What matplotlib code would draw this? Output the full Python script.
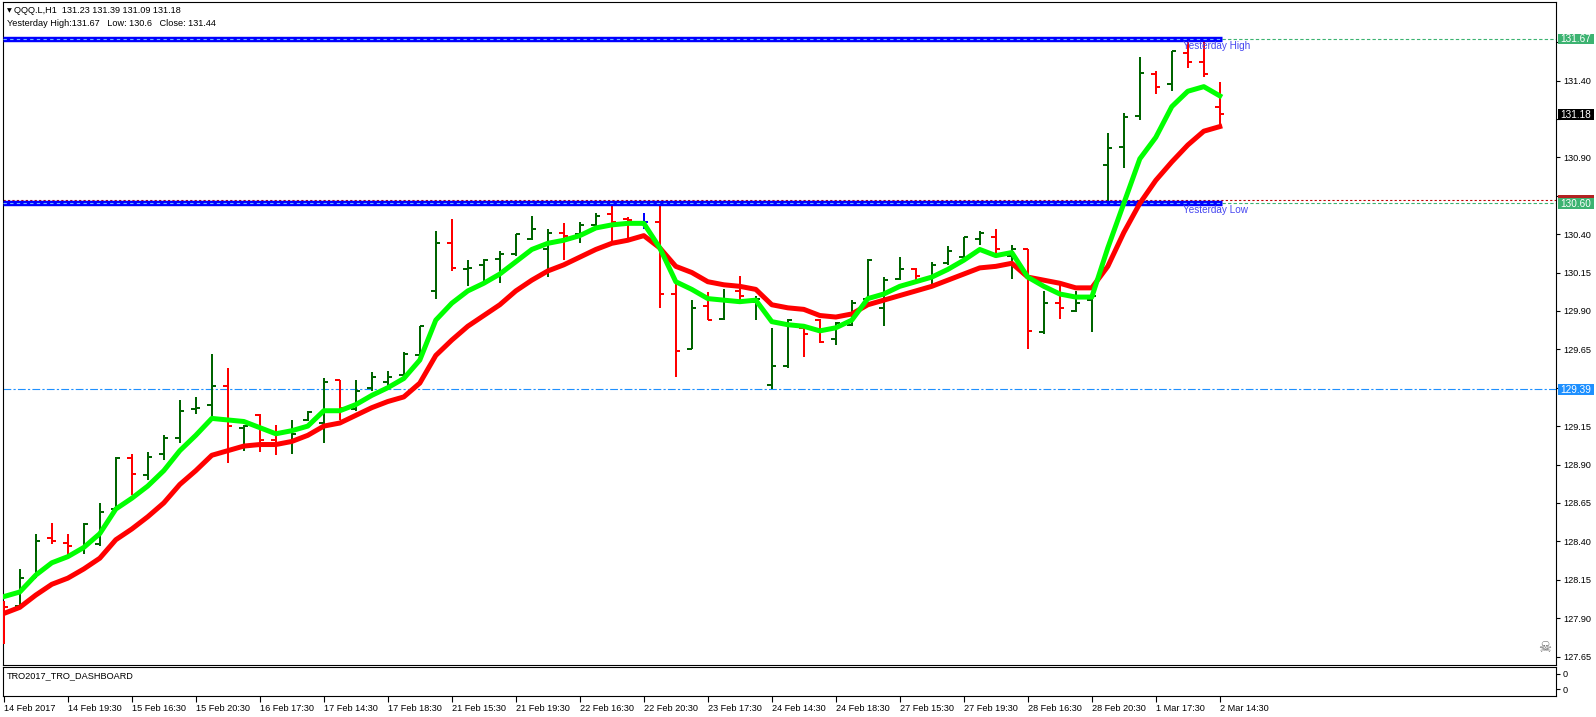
import matplotlib
matplotlib.use("Agg")
import matplotlib.pyplot as plt
from matplotlib.patches import Rectangle

W, H = 1596, 717

# ---------------- data ----------------
tick_labels = ["14 Feb 2017", "14 Feb 19:30", "15 Feb 16:30", "15 Feb 20:30", "16 Feb 17:30",
               "17 Feb 14:30", "17 Feb 18:30", "21 Feb 15:30", "21 Feb 19:30", "22 Feb 16:30",
               "22 Feb 20:30", "23 Feb 17:30", "24 Feb 14:30", "24 Feb 18:30", "27 Feb 15:30",
               "27 Feb 19:30", "28 Feb 16:30", "28 Feb 20:30", "1 Mar 17:30", "2 Mar 14:30"]
tick_bars = [0, 4, 8, 12, 16, 20, 24, 28, 32, 36, 40, 44, 48, 52, 56, 60, 64, 68, 72, 76]

opens = [128.00, 127.98, 128.16, 128.42, 128.39, 128.35, 128.38, 128.61, 128.94, 128.83,
         128.97, 129.07, 129.26, 129.29, 129.41, 129.14, 129.22, 129.06, 129.04, 129.19,
         129.17, 129.45, 129.26, 129.40, 129.44, 129.48, 129.61, 130.03, 130.34, 130.17,
         130.20, 130.24, 130.27, 130.37, 130.30, 130.41, 130.40, 130.46, 130.53, 130.50,
         130.48, 130.48, 130.01, 129.65, 129.93, 129.85, 130.03, 129.96, 129.42, 129.54,
         129.79, 129.84, 129.72, 129.81, 129.98, 129.92, 130.11, 130.17, 130.12, 130.21,
         130.25, 130.37, 130.38, 130.26, 130.30, 129.76, 129.95, 129.90, 129.97, 130.85,
         130.97, 131.17, 131.44, 131.38, 131.58, 131.52, 131.23]
highs = [128.01, 128.22, 128.45, 128.52, 128.45, 128.52, 128.65, 128.95, 128.97, 128.98,
         129.09, 129.32, 129.34, 129.62, 129.53, 129.16, 129.23, 129.16, 129.19, 129.25,
         129.46, 129.45, 129.45, 129.50, 129.51, 129.63, 129.80, 130.42, 130.50, 130.23,
         130.24, 130.29, 130.40, 130.52, 130.43, 130.47, 130.48, 130.54, 130.59, 130.51,
         130.54, 130.61, 130.08, 129.97, 130.02, 130.04, 130.13, 130.00, 129.79, 129.85,
         129.80, 129.85, 129.83, 129.97, 130.24, 130.12, 130.25, 130.18, 130.22, 130.32,
         130.38, 130.42, 130.43, 130.33, 130.30, 130.03, 130.08, 130.03, 130.01, 131.06,
         131.19, 131.55, 131.46, 131.59, 131.67, 131.67, 131.39]
lows = [127.73, 127.97, 128.16, 128.38, 128.31, 128.32, 128.37, 128.60, 128.70, 128.80,
        128.93, 129.04, 129.23, 129.20, 128.91, 128.99, 128.98, 128.96, 128.97, 129.18,
        129.04, 129.19, 129.25, 129.38, 129.40, 129.45, 129.60, 129.98, 130.16, 130.06,
        130.09, 130.08, 130.26, 130.36, 130.12, 130.23, 130.34, 130.45, 130.35, 130.37,
        130.43, 129.92, 129.47, 129.65, 129.84, 129.84, 129.97, 129.84, 129.39, 129.53,
        129.60, 129.69, 129.68, 129.80, 129.97, 129.80, 130.10, 130.08, 130.07, 130.20,
        130.25, 130.33, 130.26, 130.11, 129.65, 129.75, 129.85, 129.89, 129.76, 130.60,
        130.83, 131.14, 131.31, 131.33, 131.48, 131.42, 131.09]
closes = [127.97, 128.16, 128.40, 128.40, 128.37, 128.51, 128.59, 128.94, 128.84, 128.95,
          129.07, 129.25, 129.27, 129.41, 129.15, 129.15, 129.06, 129.04, 129.10, 129.24,
          129.44, 129.27, 129.38, 129.47, 129.47, 129.62, 129.80, 130.34, 130.18, 130.18,
          130.23, 130.27, 130.40, 130.43, 130.41, 130.39, 130.46, 130.52, 130.48, 130.49,
          130.48, 130.01, 129.64, 129.92, 129.84, 129.98, 130.00, 129.98, 129.54, 129.84,
          129.75, 129.70, 129.82, 129.95, 130.23, 130.10, 130.17, 130.13, 130.20, 130.29,
          130.38, 130.41, 130.30, 130.30, 129.77, 129.95, 129.92, 129.95, 130.00, 130.96,
          131.16, 131.45, 131.36, 131.59, 131.52, 131.44, 131.18]

ma_fast = [128.04, 128.07, 128.18, 128.26, 128.30, 128.36, 128.45, 128.61, 128.68, 128.76,
           128.86, 128.99, 129.09, 129.20, 129.19, 129.18, 129.14, 129.10, 129.12, 129.15,
           129.25, 129.25, 129.29, 129.35, 129.40, 129.46, 129.58, 129.84, 129.95, 130.03,
           130.08, 130.14, 130.22, 130.30, 130.34, 130.36, 130.39, 130.44, 130.46, 130.47,
           130.47, 130.31, 130.09, 130.04, 129.98, 129.97, 129.96, 129.97, 129.83, 129.81,
           129.80, 129.77, 129.79, 129.84, 129.98, 130.01, 130.06, 130.09, 130.12, 130.17,
           130.23, 130.30, 130.26, 130.28, 130.12, 130.06, 130.01, 129.99, 129.99, 130.31,
           130.60, 130.89, 131.03, 131.23, 131.33, 131.36, 131.30]
ma_slow = [127.93, 127.97, 128.05, 128.12, 128.16, 128.22, 128.29, 128.41, 128.48, 128.56,
           128.65, 128.77, 128.86, 128.96, 128.99, 129.02, 129.03, 129.03, 129.05, 129.09,
           129.15, 129.17, 129.22, 129.27, 129.31, 129.34, 129.43, 129.61, 129.71, 129.80,
           129.87, 129.94, 130.03, 130.10, 130.16, 130.20, 130.25, 130.30, 130.34, 130.36,
           130.39, 130.31, 130.19, 130.15, 130.09, 130.07, 130.06, 130.04, 129.94, 129.92,
           129.91, 129.87, 129.86, 129.88, 129.94, 129.97, 130.00, 130.03, 130.06, 130.10,
           130.14, 130.18, 130.19, 130.21, 130.12, 130.10, 130.08, 130.05, 130.05, 130.19,
           130.41, 130.60, 130.75, 130.87, 130.98, 131.07, 131.10]

y_high = 131.67
y_low = 130.60
y_close_line = 130.62
y_min_line = 129.39
last_price = 131.18
y_ticks = [127.65, 127.90, 128.15, 128.40, 128.65, 128.90, 129.15, 129.40, 129.65,
           129.90, 130.15, 130.40, 130.65, 130.90, 131.15, 131.40, 131.65]
hidden_ticks = [129.40, 130.65, 131.15, 131.65]   # covered by the price boxes

# ---------------- figure ----------------
plt.rcParams['font.family'] = ['Liberation Sans', 'DejaVu Sans']
FS = 6.6
fig = plt.figure(figsize=(W / 100, H / 100), dpi=100)
fig.patch.set_facecolor('white')


def fxy(px, py):
    return px / W, 1 - py / H


# pixel <-> price mapping used for the axes limits
Y0_PIX, Y0_PRICE, PPU = 656.5, 127.65, 153.6
TOP, BOT = 2, 665

XMIN = -0.05
XMAX = XMIN + 1553 / 16.0

ax = fig.add_axes([3 / W, 1 - BOT / H, 1553 / W, (BOT - TOP) / H])
ax.set_xlim(XMIN, XMAX)
ax.set_ylim(Y0_PRICE - (BOT - Y0_PIX) / PPU, Y0_PRICE + (Y0_PIX - TOP) / PPU)
ax.set_facecolor('white')
for s in ax.spines.values():
    s.set_color('black')
    s.set_linewidth(0.8)
ax.set_xticks([])
ax.yaxis.tick_right()
ax.set_yticks(y_ticks)
ax.set_yticklabels(["" if any(abs(v - h) < 1e-6 for h in hidden_ticks) else "%.2f" % v
                    for v in y_ticks])
ax.tick_params(axis='y', direction='out', length=3, width=0.8, pad=2, labelsize=FS, colors='black')

xs = list(range(len(opens)))
cols = []
for o, c in zip(opens, closes):
    if c > o:
        cols.append('#006400')
    elif c < o:
        cols.append('#ff0000')
    else:
        cols.append('#0000ff')

LW = 1.44
TK = 0.27
ax.vlines(xs, lows, highs, colors=cols, linewidth=LW, zorder=3)
ax.hlines(opens, [x - TK for x in xs], xs, colors=cols, linewidth=LW, zorder=3)
ax.hlines(closes, xs, [x + TK for x in xs], colors=cols, linewidth=LW, zorder=3)

# levels
ax.axhline(y_min_line, color='#1e90ff', linewidth=0.8, linestyle=(0, (7, 2, 2, 2)), zorder=2)
ax.axhline(y_close_line, color='#c00000', linewidth=0.8, linestyle=(0, (2, 2)), zorder=2)
last_x = len(opens) - 1 + 0.12
for lvl in (y_high, y_low):
    ax.hlines(lvl, XMIN, last_x, colors='#0000ff', linewidth=3.9, zorder=4)
    ax.hlines(lvl, XMIN, last_x, colors='#6fb6ff', linewidth=0.8, linestyles=(0, (3, 3)), zorder=5)
    ax.hlines(lvl, last_x, XMAX, colors='#3cb371', linewidth=0.8, linestyles=(0, (3, 2)), zorder=2)

# moving averages
ax.plot(xs, ma_slow, color='#ff0000', linewidth=3.6, zorder=6, solid_joinstyle='round')
ax.plot(xs, ma_fast, color='#00ff00', linewidth=3.6, zorder=7, solid_joinstyle='round')

# level captions
fig.text(*fxy(1183, 46), "Yesterday High", color='#4646f0', fontsize=FS + 0.6, va='center', ha='left')
fig.text(*fxy(1183, 210), "Yesterday Low", color='#4646f0', fontsize=FS + 0.6, va='center', ha='left')

# header
fig.text(*fxy(6.5, 10.5), "\u25BC", fontsize=4.5, va='center', ha='left', color='black',
         family='DejaVu Sans')
fig.text(*fxy(14, 10.5), "QQQ.L,H1  131.23 131.39 131.09 131.18", fontsize=FS, va='center', ha='left')
fig.text(*fxy(7, 24), "Yesterday High:131.67   Low: 130.6   Close: 131.44", fontsize=FS, va='center', ha='left')

# skull icon
fig.text(*fxy(1545, 648), "\u2620", fontsize=10.5, color='#6a6a6a', va='center', ha='center',
         family='DejaVu Sans')


# price boxes on the right axis
def ypix(price):
    return Y0_PIX - (price - Y0_PRICE) * PPU


def price_box(price, fc, show_text=True):
    yc = ypix(price)
    fig.patches.append(Rectangle(fxy(1557.5, yc + 5.3), 36.5 / W, 10.6 / H,
                                 transform=fig.transFigure, facecolor=fc, edgecolor='none',
                                 zorder=9))
    if show_text:
        fig.text(*fxy(1575.5, yc + 0.3), "%.2f" % price, fontsize=FS + 0.6, color='white',
                 va='center', ha='center', zorder=10)


price_box(y_high, '#3cb371')
price_box(last_price, '#000000')
price_box(y_close_line, '#b22222', show_text=False)
price_box(y_low, '#3cb371')
price_box(y_min_line, '#1e90ff')

# indicator pane
ax2 = fig.add_axes([3 / W, 1 - 696 / H, 1553 / W, 29 / H])
ax2.set_xlim(XMIN, XMAX)
ax2.set_ylim(0, 1)
for s in ax2.spines.values():
    s.set_color('black')
    s.set_linewidth(0.8)
ax2.yaxis.tick_right()
ax2.set_yticks([0.241, 0.759])
ax2.set_yticklabels(["0", "0"])
ax2.tick_params(axis='y', direction='out', length=3, width=0.8, pad=2, labelsize=FS)
ax2.set_xticks(tick_bars)
ax2.set_xticklabels(tick_labels, ha='left')
ax2.tick_params(axis='x', direction='out', length=4, width=0.8, pad=1.5, labelsize=FS)
ax2.text(4 / 1553, (696 - 676) / 29, "TRO2017_TRO_DASHBOARD", transform=ax2.transAxes,
         fontsize=FS, va='center', ha='left')

fig.savefig("out.png", dpi=100, facecolor='white')
